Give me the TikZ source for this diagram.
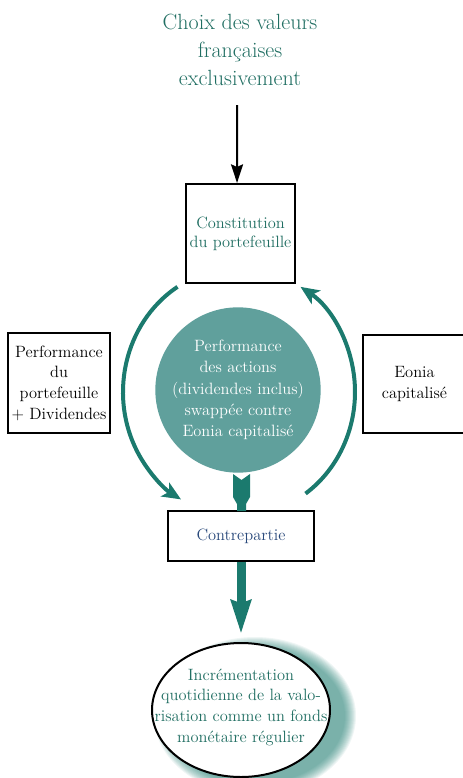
\documentclass[tikz,border=0pt]{standalone}
\usepackage{tikz}
\usetikzlibrary{arrows.meta,shapes.geometric}

\definecolor{vertsombre}{RGB}{27,122,110}
\definecolor{vertclair}{RGB}{96,160,156}
\definecolor{textevert}{RGB}{32,110,98}
\definecolor{texteblue}{RGB}{40,72,122}

\tikzset{
  boite/.style={draw, line width=1.5pt, align=center, inner sep=0pt, fill=white},
  anneau/.style={draw=vertsombre, line width=3pt, -{Stealth[length=14pt, width=12pt, inset=3.5pt]}},
}

\begin{document}
\begin{tikzpicture}[x=0.75pt, y=0.75pt, font=\fontsize{12.3}{15.5}\selectfont]
			\useasboundingbox (0,0) rectangle (463,-778);
			
			\node[text=textevert, align=center, font=\fontsize{16.5}{21}\selectfont] (titre) at (240,-50) {Choix des valeurs\\fran\c{c}aises\\exclusivement};
			\node[boite, text=textevert, minimum width=81.75pt, minimum height=74.25pt, font=\fontsize{12.3}{14.5}\selectfont] (constit) at (240.5,-233.5) {Constitution\\du portefeuille};
			\node[boite, minimum width=76.5pt, minimum height=75pt] (perf) at (59,-383) {Performance\\du\\portefeuille\\+ Dividendes};
			\node[boite, minimum width=77.25pt, minimum height=73.5pt] (eonia) at (414.5,-384) {Eonia\\capitalis\'e};
			\node[circle, fill=vertclair, text=white, align=center, minimum size=123pt, inner sep=0pt, font=\fontsize{12.3}{16}\selectfont] (swap) at (238,-390) {Performance\\des actions\\(dividendes inclus)\\swapp\'ee contre\\Eonia capitalis\'e};
			\node[boite, text=texteblue, minimum width=109.5pt, minimum height=37.5pt] (contre) at (241,-536) {Contrepartie};
			
			\coordinate (centre) at (239,-392);
			
			\foreach \i in {1,...,12}
				\fill[vertsombre, opacity=0.07] (255,-716) ellipse ({89+13-\i} and {67+13-\i});
			\node[ellipse, draw, line width=1.5pt, fill=white, minimum width=133.5pt, minimum height=100.5pt, inner sep=0pt] (increm) at (241,-710) {};
			\node[text=textevert, align=center] (incremtexte) at (241,-707) {Incr\'ementation\\quotidienne de la valo-\\risation comme un fonds\\mon\'etaire r\'egulier};
			
			\draw[line width=1.5pt, -{Stealth[length=14pt, width=9pt, inset=2pt]}] ([xshift=-2.25pt, yshift=-11pt]titre.south) -- ([xshift=-2.6pt]constit.north);
			
			\draw[anneau] ([shift={(122:116 and 124)}]centre) arc[start angle=122, end angle=240, x radius=116, y radius=124];
			\draw[anneau] ([shift={(-55:116 and 124)}]centre) arc[start angle=-55, end angle=58, x radius=116, y radius=124];
			
			\fill[vertsombre] (233,-474) -- (241.5,-480) -- (250,-474) -- (250,-497) -- (246,-504) -- (246,-511) -- (237,-511) -- (237,-504) -- (233,-497) -- cycle;
			
			\draw[vertsombre, line width=6.75pt, -{Stealth[length=25pt, width=14.5pt, inset=2pt]}, shorten >=6pt] (contre) -- (increm);
		\end{tikzpicture}
\end{document}
